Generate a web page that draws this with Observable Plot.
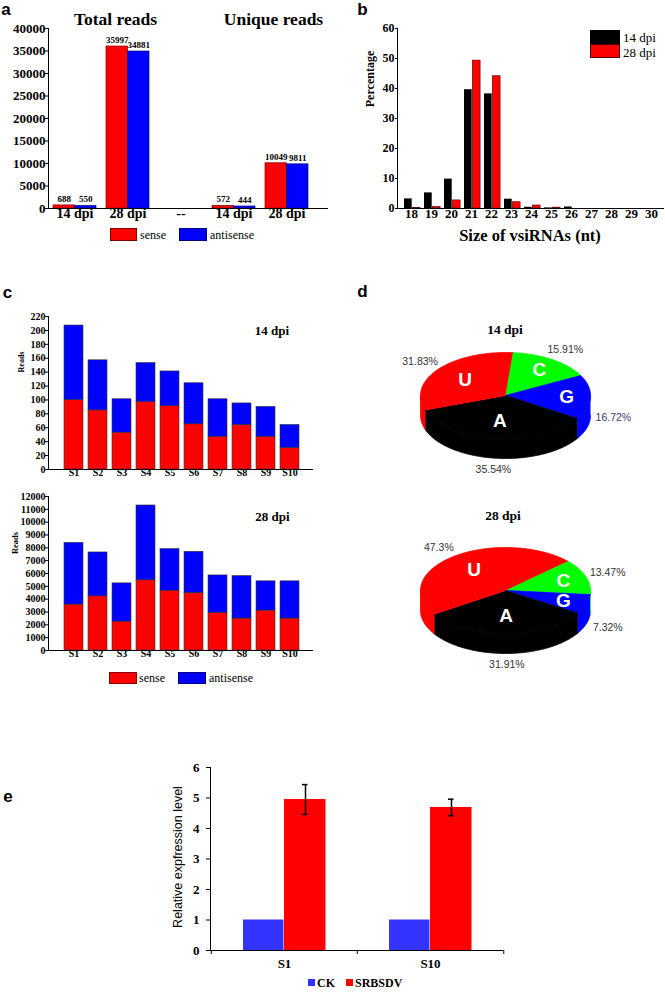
<!DOCTYPE html>
<html><head><meta charset="utf-8">
<script src="https://cdn.jsdelivr.net/npm/d3@7"></script>
<script src="https://cdn.jsdelivr.net/npm/@observablehq/plot@0.6"></script>
<style>
body{margin:0;background:#fff;}
#root{position:relative;width:665px;height:992px;overflow:hidden;background:#fff;}
</style></head><body><div id="root"></div>
<script>
// ---------- DATA ----------
// panel a
const aCategories = ["T14","T28","gap","U14","U28"];
const aLabels = ["14 dpi","28 dpi","--","14 dpi","28 dpi"];
const aSense = [688, 35997, null, 572, 10049];
const aAntisense = [550, 34881, null, 444, 9811];
const aYTicks = [0,5000,10000,15000,20000,25000,30000,35000,40000];
// panel b
const bSizes = ["18","19","20","21","22","23","24","25","26","27","28","29","30"];
const b14dpi = [3.2,5.2,9.8,39.6,38.2,3.1,0.4,0.2,0.5,0,0,0,0];
const b28dpi = [0.2,0.5,2.7,49.3,44.1,2.1,1.0,0.3,0,0,0,0,0];
const bYTicks = [0,10,20,30,40,50,60];
// panel c
const cSamples = ["S1","S2","S3","S4","S5","S6","S7","S8","S9","S10"];
const c14Sense = [100,85,53,97,91,65,47,64,47,31];
const c14Antisense = [107,72,48,56,50,59,54,31,43,33];
const c28Sense = [3580,4220,2250,5470,4660,4480,2930,2490,3110,2490];
const c28Antisense = [4810,3420,2980,5830,3240,3210,2920,3310,2280,2900];
const c14Ticks = [0,20,40,60,80,100,120,140,160,180,200,220];
const c28Ticks = [0,1000,2000,3000,4000,5000,6000,7000,8000,9000,10000,11000,12000];
// panel d
const dBases = ["C","G","A","U"];
const dColors = ["#00ff00","#0000ff","#000000","#ff0000"];
const d14Pct = [15.91,16.72,35.54,31.83];
const d28Pct = [13.47,7.32,31.91,47.3];
// panel e
const eGenes = ["S1","S10"];
const eCK = [1,1];
const eSRBSDV = [4.95,4.69];
const eErr = [0.49,0.27];
const eYTicks = [0,1,2,3,4,5,6];

// ---------- HELPERS ----------
const root = document.getElementById("root");
const SERIF = "'Liberation Serif','Times New Roman',Times,serif";
const SANS = "'Liberation Sans',Arial,Helvetica,sans-serif";
function put(svg, left, top){
  svg.style.position = "absolute"; svg.style.left = left+"px"; svg.style.top = top+"px";
  root.appendChild(svg);
}
function label(s, x, y, o = {}){
  const d = document.createElement("div");
  d.textContent = s;
  const tr = o.anchor === "start" ? "translate(0,-50%)" : "translate(-50%,-50%)";
  d.style.cssText = `position:absolute;left:${x}px;top:${y}px;white-space:nowrap;line-height:1;` +
    `transform:${tr}${o.rotate ? ` rotate(${o.rotate}deg)` : ""};font-family:${o.family||SERIF};` +
    `font-size:${o.size||12}px;font-weight:${o.weight||"normal"};color:${o.color||"#000"}`;
  root.appendChild(d);
}
function swatch(x, y, w, h, color, border){
  const d = document.createElement("div");
  d.style.cssText = `position:absolute;left:${x}px;top:${y}px;width:${w}px;height:${h}px;background:${color};box-sizing:border-box;${border?`border:1px solid ${border};`:""}`;
  root.appendChild(d);
}
const baseStyle = (size) => ({background:"transparent", overflow:"visible", fontFamily:SERIF, fontSize:size+"px", fontWeight:"bold", color:"#000"});

// ---------- PANEL A ----------
const aRows = aCategories.map((c,i)=>({c, sense:aSense[i], antisense:aAntisense[i]})).filter(d=>d.sense!=null);
put(Plot.plot({
  width:330, height:250, marginLeft:48, marginRight:17, marginTop:28, marginBottom:42,
  style:baseStyle(13),
  x:{domain:aCategories, padding:0, axis:null},
  y:{domain:[0,40000], ticks:aYTicks, tickFormat:d=>String(d), tickSize:3, tickPadding:0, line:true, label:null},
  marks:[
    Plot.barY(aRows,{x:"c", y:"sense", fill:"#ff0000", stroke:"#800000", strokeWidth:0.7, insetLeft:5, insetRight:26.5}),
    Plot.barY(aRows,{x:"c", y:"antisense", fill:"#0000ff", stroke:"#000080", strokeWidth:0.7, insetLeft:26.5, insetRight:5}),
    Plot.text(aRows,{x:"c", y:"sense", text:d=>String(d.sense), dx:-10.75, dy:-6.5, fontSize:9}),
    Plot.text(aRows,{x:"c", y:"antisense", text:d=>String(d.antisense), dx:10.75, dy:-6.5, fontSize:9}),
    Plot.ruleY([0],{insetRight:-15}),
    Plot.text(aCategories,{x:d=>d, text:(d,i)=>aLabels[i], frameAnchor:"bottom", dy:9, fontSize:14})
  ]
}), 0, 0);
label("a", 6, 8.5, {family:SANS, size:17, weight:"bold"});
label("Total reads", 115.5, 20, {size:17.5, weight:"bold"});
label("Unique reads", 273.5, 20, {size:17.5, weight:"bold"});
swatch(110, 228, 27, 13, "#ff0000", "#800000");
label("sense", 140, 234.5, {anchor:"start", size:12});
swatch(179, 228, 28, 13, "#0000ff", "#000080");
label("antisense", 210, 234.5, {anchor:"start", size:12});

// ---------- PANEL B ----------
const bRows = bSizes.map((s,i)=>({s, d14:b14dpi[i], d28:b28dpi[i]}));
put(Plot.plot({
  width:335, height:250, marginLeft:67, marginRight:1, marginTop:28, marginBottom:42,
  style:baseStyle(12),
  x:{domain:bSizes, padding:0, axis:null},
  y:{domain:[0,60], ticks:bYTicks, tickSize:2, tickPadding:1, line:true, label:null},
  marks:[
    Plot.barY(bRows.filter(d=>d.d14>0),{x:"s", y:"d14", fill:"#000", insetLeft:3, insetRight:9.3}),
    Plot.barY(bRows.filter(d=>d.d28>0),{x:"s", y:"d28", fill:"#ff0000", stroke:"#500000", strokeWidth:0.6, insetLeft:11.3, insetRight:0.9}),
    Plot.ruleY([0]),
    Plot.text(bSizes,{x:d=>d, frameAnchor:"bottom", dy:9, fontSize:13})
  ]
}), 330, 0);
label("b", 362.5, 8.5, {family:SANS, size:17, weight:"bold"});
label("Percentage", 370, 79, {rotate:-90, size:12, weight:"bold"});
label("Size of vsiRNAs (nt)", 530, 236, {size:16.5, weight:"bold"});
swatch(590, 30, 30, 14, "#000000", "#000");
label("14 dpi", 623, 37, {anchor:"start", size:13});
swatch(590, 44, 30, 14, "#ff0000", "#500000");
label("28 dpi", 623, 51.5, {anchor:"start", size:13});

// ---------- PANEL C ----------
function stackRows(sense, anti){
  return cSamples.flatMap((s,i)=>[{s, part:"sense", v:sense[i]}, {s, part:"antisense", v:anti[i]}]);
}
function panelC(rows, ticks, height, mTop, mBottom){
  return Plot.plot({
    width:330, height, marginLeft:48, marginRight:17, marginTop:mTop, marginBottom:mBottom,
    style:baseStyle(10),
    color:{type:"identity"},
    x:{domain:cSamples, range:[63,299], paddingInner:0.21, paddingOuter:0, axis:null},
    y:{domain:[0,ticks[ticks.length-1]], ticks, tickFormat:d=>String(d), tickSize:3, tickPadding:0, line:true, label:null},
    marks:[
      Plot.barY(rows,{x:"s", y:"v", fill:d=>d.part==="sense"?"#ff0000":"#0000ff", stroke:"#333", strokeWidth:0.6}),
      Plot.ruleY([0]),
      Plot.text(cSamples,{x:d=>d, frameAnchor:"bottom", dy:6.5, fontSize:10})
    ]
  });
}
put(panelC(stackRows(c14Sense, c14Antisense), c14Ticks, 200, 36, 11), 0, 280);
put(panelC(stackRows(c28Sense, c28Antisense), c28Ticks, 190, 16, 20), 0, 480);
label("c", 7.5, 291.5, {family:SANS, size:17, weight:"bold"});
label("14 dpi", 272, 330, {size:13, weight:"bold"});
label("28 dpi", 272.5, 516, {size:13, weight:"bold"});
label("Reads", 22, 362, {rotate:-90, size:8, weight:"bold"});
label("Reads", 15, 543, {rotate:-90, size:8.5, weight:"bold"});
swatch(109, 672, 28, 12, "#ff0000", "#800000");
label("sense", 139, 678, {anchor:"start", size:12});
swatch(178, 672, 28, 12, "#0000ff", "#000080");
label("antisense", 209, 678, {anchor:"start", size:12});

// ---------- PANEL D ----------
const RX = 85, RY = 43, DEPTH = 20 / RY;
function pie(pcts, rotation, pctColors){
  let a = rotation;
  const slices = pcts.map((p,i)=>{ const a0 = a; a += p*3.6; return {base:dBases[i], color:dColors[i], pct:p, a0, a1:a, mid:(a0+a)/2, pc:pctColors[i]}; });
  const rad = t => t*Math.PI/180;
  const pts = [];
  let id = 0;
  // sides (front half, 90..270 deg)
  for (const s of slices){
    for (const k of [0,360,-360]){
      const lo = Math.max(s.a0, 90+k), hi = Math.min(s.a1, 270+k);
      if (hi > lo){
        const seg = d3.range(lo, hi, 1).concat([hi]);
        seg.forEach(t=>pts.push({id, color:s.color, x:Math.sin(rad(t)), y:Math.cos(rad(t))}));
        seg.slice().reverse().forEach(t=>pts.push({id, color:s.color, x:Math.sin(rad(t)), y:Math.cos(rad(t))-DEPTH}));
        id++;
      }
    }
  }
  // top faces
  for (const s of slices){
    pts.push({id, color:s.color, x:0, y:0});
    d3.range(s.a0, s.a1, 1).concat([s.a1]).forEach(t=>pts.push({id, color:s.color, x:Math.sin(rad(t)), y:Math.cos(rad(t))}));
    id++;
  }
  const lr = d => d.pct < 20 ? 0.72 : 0.6, pr = 1.27;
  return Plot.plot({
    width:335, height:195, margin:0,
    style:{background:"transparent", overflow:"visible"},
    color:{type:"identity"},
    x:{domain:[-175/RX, 160/RX], axis:null},
    y:{domain:[-80/RY, 115/RY], axis:null},
    marks:[
      Plot.line(pts,{x:"x", y:"y", z:"id", fill:"color", stroke:"color", strokeWidth:0.8, curve:"linear"}),
      Plot.text(slices,{x:d=>lr(d)*Math.sin(rad(d.mid)), y:d=>lr(d)*Math.cos(rad(d.mid)), text:"base", fill:"white", fontSize:19, fontWeight:"bold", fontFamily:SANS}),
      Plot.text(slices,{x:d=>pr*Math.sin(rad(d.mid)), y:d=>pr*Math.cos(rad(d.mid)) - (Math.cos(rad(d.mid))<0?DEPTH:0), text:d=>d.pct+"%", fill:"pc", fontSize:10.5, fontFamily:SANS})
    ]
  });
}
put(pie(d14Pct, 5, ["#333","#3a3a72","#333","#333"]), 330, 280);
put(pie(d28Pct, 47, ["#333","#333","#333","#333"]), 330, 475);
label("d", 362.5, 291, {family:SANS, size:17, weight:"bold"});
label("14 dpi", 505, 330, {size:13.5, weight:"bold"});
label("28 dpi", 503, 515.5, {size:13.5, weight:"bold"});

// ---------- PANEL E ----------
const eRows = eGenes.map((g,i)=>({g, ck:eCK[i], sr:eSRBSDV[i], err:eErr[i]}));
put(Plot.plot({
  width:400, height:280, marginLeft:60, marginRight:47, marginTop:67, marginBottom:30,
  style:baseStyle(13),
  x:{domain:eGenes, padding:0, axis:null},
  y:{domain:[0,6], ticks:eYTicks, tickFormat:d=>String(d), tickSize:4, tickPadding:7, line:true, label:null},
  marks:[
    Plot.barY(eRows,{x:"g", y:"ck", fill:"#3333ff", insetLeft:32, insetRight:73.5}),
    Plot.barY(eRows,{x:"g", y:"sr", fill:"#ff0000", insetLeft:73, insetRight:31.5}),
    Plot.ruleX(eRows,{x:"g", y1:d=>d.sr-d.err, y2:d=>d.sr+d.err, dx:21, stroke:"#000", strokeWidth:1.5}),
    Plot.tickY(eRows,{x:"g", y:d=>d.sr+d.err, insetLeft:91, insetRight:49.5, strokeWidth:1.5}),
    Plot.tickY(eRows,{x:"g", y:d=>d.sr-d.err, insetLeft:91, insetRight:49.5, strokeWidth:1.5}),
    Plot.ruleY([0]),
    Plot.ruleX(eGenes,{x:d=>d, dx:-73.25, y1:()=>0, y2:()=>0, insetBottom:-4}),
    Plot.ruleX([eGenes[eGenes.length-1]],{x:d=>d, dx:73.25, y1:()=>0, y2:()=>0, insetBottom:-4}),
    Plot.text(eGenes,{x:d=>d, frameAnchor:"bottom", dy:17, fontSize:13})
  ]
}), 150, 700);
label("e", 8, 795.5, {family:SANS, size:17, weight:"bold"});
label("Relative expfression level", 178, 857, {rotate:-90, size:12.5, family:SANS});
swatch(308, 979, 7, 7, "#3333ff");
label("CK", 317, 983, {anchor:"start", size:12, weight:"bold"});
swatch(346, 979, 7, 7, "#ff0000");
label("SRBSDV", 355, 983, {anchor:"start", size:12, weight:"bold"});
</script></body></html>
